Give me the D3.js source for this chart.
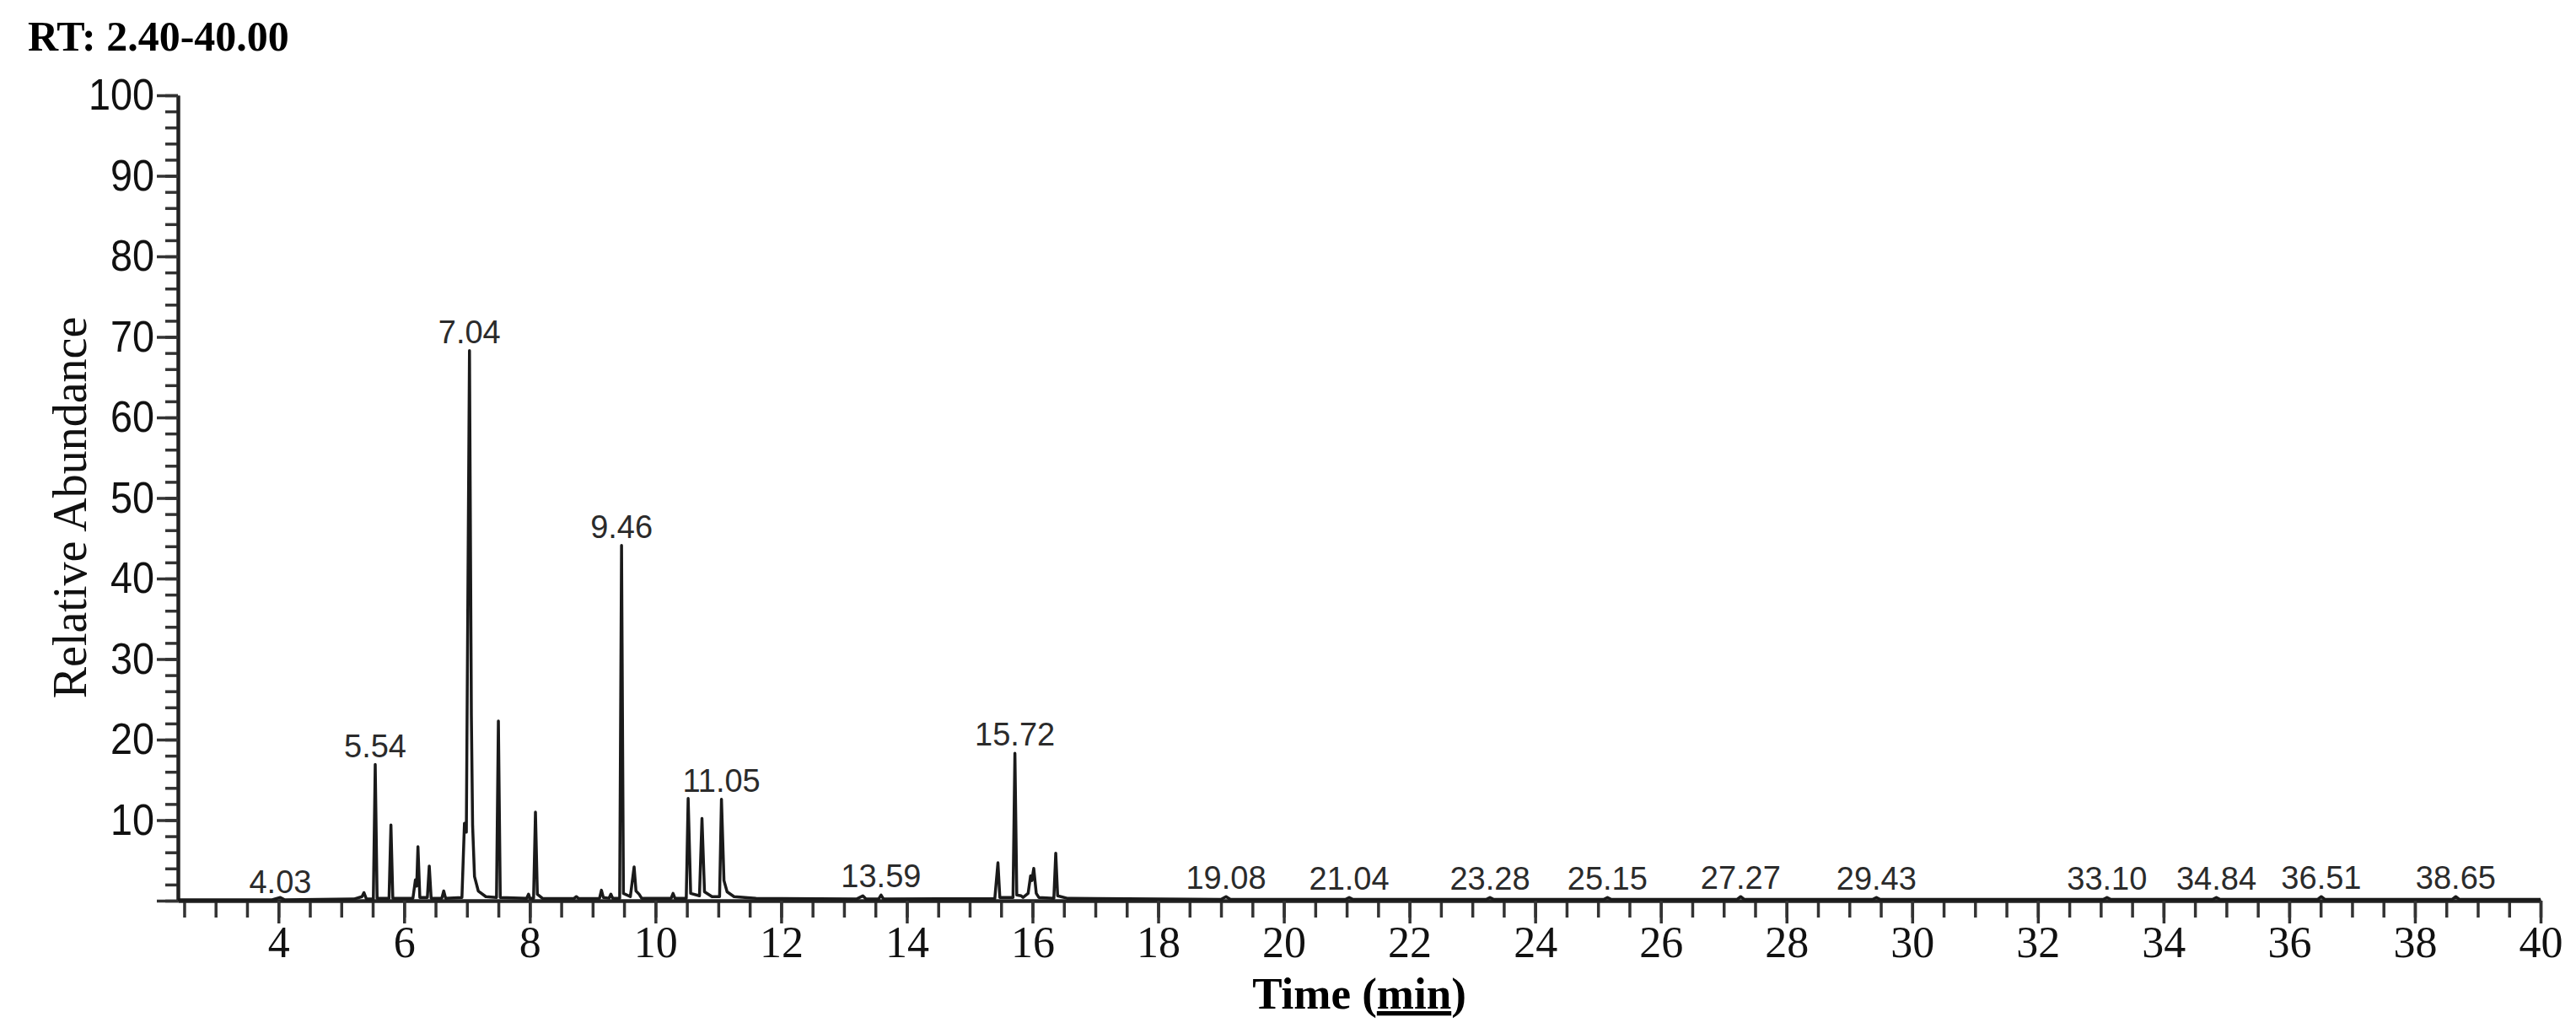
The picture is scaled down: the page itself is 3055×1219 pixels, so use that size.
<!DOCTYPE html>
<html>
<head>
<meta charset="utf-8">
<script src="https://cdnjs.cloudflare.com/ajax/libs/d3/7.8.5/d3.min.js"></script>
<style>
  body { margin: 0; background: #fff; }
  svg { display: block; }
</style>
</head>
<body>
<script>
// Chromatogram trace: retention time (min) and relative abundance (%)
var rt = [
  2.40, 3.90, 4.03, 4.10, 5.20, 5.33, 5.36, 5.40, 5.51, 5.54, 5.57, 5.76, 5.79, 5.82,
  6.14, 6.18, 6.20, 6.22, 6.25, 6.37, 6.40, 6.43, 6.60, 6.63, 6.66, 6.92, 6.96, 6.99,
  7.04, 7.07, 7.09, 7.12, 7.18, 7.30, 7.47, 7.50, 7.53, 7.95, 7.98, 8.00, 8.06, 8.09,
  8.12, 8.20, 8.70, 8.74, 8.78, 9.11, 9.14, 9.17, 9.26, 9.29, 9.32, 9.43, 9.46, 9.49,
  9.60, 9.66, 9.69, 9.74, 9.78, 10.25, 10.28, 10.31, 10.49, 10.52, 10.56, 10.70, 10.74,
  10.78, 10.90, 11.02, 11.05, 11.09, 11.14, 11.25, 11.60, 12.00, 13.20, 13.30, 13.35,
  13.55, 13.59, 13.63, 15.40, 15.45, 15.48, 15.69, 15.72, 15.75, 15.82, 15.85, 15.93,
  15.97, 15.99, 16.02, 16.06, 16.10, 16.34, 16.37, 16.40, 16.55, 17.00, 19.00, 19.08,
  19.15, 20.98, 21.04, 21.10, 23.22, 23.28, 23.34, 25.09, 25.15, 25.21, 27.21, 27.27,
  27.33, 29.37, 29.43, 29.49, 33.04, 33.10, 33.16, 34.78, 34.84, 34.90, 36.45, 36.51,
  36.57, 38.59, 38.65, 38.71, 40.00
];
var abundance = [
  0.1, 0.1, 0.4, 0.1, 0.2, 0.5, 1.0, 0.2, 0.2, 16.9, 0.3, 0.3, 9.4, 0.3,
  0.3, 2.6, 1.8, 6.7, 0.4, 0.4, 4.3, 0.3, 0.3, 1.2, 0.3, 0.4, 9.6, 8.5,
  68.3, 23.0, 9.3, 3.0, 1.2, 0.5, 0.4, 22.3, 0.4, 0.3, 0.8, 0.3, 0.3, 11.0,
  0.8, 0.3, 0.25, 0.5, 0.25, 0.3, 1.3, 0.4, 0.3, 0.8, 0.3, 0.3, 44.1, 0.9,
  0.5, 4.2, 1.2, 0.8, 0.3, 0.3, 0.9, 0.3, 0.3, 12.7, 0.9, 0.6, 10.2,
  1.1, 0.5, 0.5, 12.6, 2.5, 1.1, 0.5, 0.3, 0.25, 0.2, 0.6, 0.2,
  0.2, 0.7, 0.2, 0.25, 4.7, 0.4, 0.4, 18.3, 0.7, 0.6, 0.4, 0.9,
  3.1, 2.5, 4.0, 0.9, 0.4, 0.3, 5.9, 0.6, 0.3, 0.25, 0.15, 0.5,
  0.15, 0.15, 0.4, 0.15, 0.15, 0.4, 0.15, 0.15, 0.4, 0.15, 0.15, 0.5,
  0.15, 0.15, 0.4, 0.15, 0.15, 0.4, 0.15, 0.15, 0.4, 0.15, 0.15, 0.5,
  0.15, 0.15, 0.5, 0.15, 0.15
];

// Peak labels
var labelText = ["4.03", "5.54", "7.04", "9.46", "11.05", "13.59", "15.72", "19.08", "21.04",
  "23.28", "25.15", "27.27", "29.43", "33.10", "34.84", "36.51", "38.65"];
var labelRT = [4.03, 5.54, 7.04, 9.46, 11.05, 13.59, 15.72, 19.08, 21.04,
  23.28, 25.15, 27.27, 29.43, 33.10, 34.84, 36.51, 38.65];
var labelLevel = [0, 16.9, 68.3, 44.1, 12.6, 0.7, 18.3, 0.5, 0.4,
  0.4, 0.4, 0.5, 0.4, 0.4, 0.4, 0.5, 0.5];

// Axis ticks
var xTickLabels = [4, 6, 8, 10, 12, 14, 16, 18, 20, 22, 24, 26, 28, 30, 32, 34, 36, 38, 40];
var yTickLabels = [10, 20, 30, 40, 50, 60, 70, 80, 90, 100];

var svgWidth = 3055;
var svgHeight = 1219;

var margin = { top: 113, right: 42, bottom: 151, left: 211 };

var width = svgWidth - margin.left - margin.right;
var height = svgHeight - margin.top - margin.bottom;

var svg = d3.select("body")
  .append("svg")
  .attr("width", svgWidth)
  .attr("height", svgHeight);

var chartGroup = svg.append("g")
  .attr("transform", `translate(${margin.left}, ${margin.top})`);

// Scales
var xScale = d3.scaleLinear().domain([2.4, 40]).range([0, width]);
var yScale = d3.scaleLinear().domain([0, 100]).range([height, 0]);

// Minor ticks (no labels)
var xMinor = d3.axisBottom(xScale)
  .tickValues(d3.range(2.5, 40.01, 0.5))
  .tickSize(20).tickSizeOuter(0).tickFormat("");
var yMinor = d3.axisLeft(yScale)
  .tickValues(d3.range(0, 100.01, 2))
  .tickSize(15).tickSizeOuter(0).tickFormat("");

// Major ticks with labels
var xMajor = d3.axisBottom(xScale)
  .tickValues(xTickLabels)
  .tickSize(27).tickSizeOuter(0).tickPadding(3)
  .tickFormat(d3.format("d"));
var yMajor = d3.axisLeft(yScale)
  .tickValues([0].concat(yTickLabels))
  .tickSize(25).tickSizeOuter(0).tickPadding(3)
  .tickFormat(d => d === 0 ? "" : d);

function styleAxis(g) {
  g.select(".domain").attr("stroke", "#222").attr("stroke-width", 4);
  g.selectAll(".tick line").attr("stroke", "#333").attr("stroke-width", 3.5);
}

chartGroup.append("g").attr("transform", `translate(0, ${height})`).call(xMinor).call(styleAxis);
chartGroup.append("g").call(yMinor).call(styleAxis);

chartGroup.append("g")
  .attr("transform", `translate(0, ${height})`)
  .call(xMajor)
  .call(styleAxis)
  .selectAll("text")
  .attr("fill", "#111")
  .style("font-family", "'Liberation Serif', 'Times New Roman', serif")
  .style("font-size", "52px");

// y labels are narrow in the original, squeeze them a little
chartGroup.append("g")
  .call(yMajor)
  .call(styleAxis)
  .selectAll("text")
  .attr("fill", "#111")
  .attr("x", -28 / 0.9)
  .attr("transform", "scale(0.9,1)")
  .style("font-family", "'Liberation Sans', Arial, sans-serif")
  .style("font-size", "52px");

// The trace
var trace = d3.line()
  .x((d, i) => xScale(rt[i]))
  .y(d => yScale(d));

chartGroup.append("path")
  .attr("d", trace(abundance))
  .attr("fill", "none")
  .attr("stroke", "#1a1a1a")
  .attr("stroke-width", 3.5)
  .attr("stroke-linejoin", "round");

// Peak labels
chartGroup.selectAll(".peak-label")
  .data(labelText)
  .enter()
  .append("text")
  .attr("class", "peak-label")
  .attr("x", (d, i) => xScale(labelRT[i]))
  .attr("y", (d, i) => yScale(labelLevel[i]) - 9)
  .attr("text-anchor", "middle")
  .attr("fill", "#2b2b2b")
  .style("font-family", "'Liberation Sans', Arial, sans-serif")
  .style("font-size", "38px")
  .text(d => d);

// Titles
svg.append("text")
  .attr("x", 33)
  .attr("y", 60)
  .style("font-family", "'Liberation Serif', 'Times New Roman', serif")
  .style("font-weight", "bold")
  .style("font-size", "50px")
  .attr("fill", "#000")
  .text("RT: 2.40-40.00");

svg.append("text")
  .attr("transform", "translate(102, 602) rotate(-90)")
  .attr("text-anchor", "middle")
  .style("font-family", "'Liberation Serif', 'Times New Roman', serif")
  .style("font-size", "56px")
  .attr("fill", "#111")
  .text("Relative Abundance");

var xTitle = svg.append("text")
  .attr("x", margin.left + width / 2)
  .attr("y", 1196)
  .attr("text-anchor", "middle")
  .style("font-family", "'Liberation Serif', 'Times New Roman', serif")
  .style("font-weight", "bold")
  .style("font-size", "53px")
  .attr("fill", "#000");
xTitle.append("tspan").text("Time (");
xTitle.append("tspan").style("text-decoration", "underline").text("min");
xTitle.append("tspan").text(")");
</script>
</body>
</html>
